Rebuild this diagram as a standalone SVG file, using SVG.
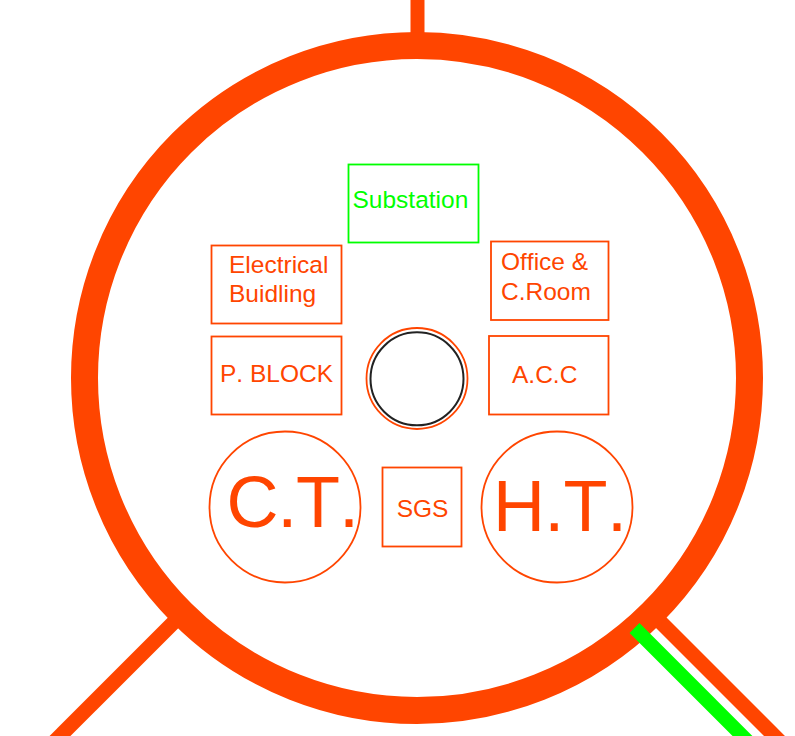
<svg xmlns="http://www.w3.org/2000/svg" width="795" height="736" viewBox="0 0 795 736">
<style>
.b{fill:none;stroke:#ff4500;stroke-width:1.8}
text{font-family:"Liberation Sans",Arial,sans-serif;font-kerning:none}
.t{fill:#ff4500;font-size:24.500px}
.big{fill:#ff4500;font-size:72px}
</style>
<rect width="795" height="736" fill="#fff"/>
<g id="connectors" fill="none" stroke-width="14.800">
<path d="M417.500 0V40" stroke="#ff4500" stroke-width="14"/>
<path d="M176 620L50 746" stroke="#ff4500"/>
<path d="M659 620.500L790 751.500" stroke="#ff4500"/>
</g>
<g id="ring"><circle cx="417" cy="378" r="332.500" fill="#fff" stroke="#ff4500" stroke-width="27"/></g>
<g id="green-connector"><path d="M634.500 628L764.500 758" fill="none" stroke="#00ff00" stroke-width="14"/></g>
<g id="substation"><rect x="348.500" y="164.500" width="130" height="78" fill="none" stroke="#00ff00" stroke-width="1.800"/><text x="352.500" y="207.500" font-size="24.500" fill="#00ff00">Substation</text></g>
<g id="electrical"><rect class="b" x="211.500" y="245.500" width="130" height="78"/><text class="t" x="229" y="272.500">Electrical</text><text class="t" x="229" y="301.500">Buidling</text></g>
<g id="office"><rect class="b" x="491" y="241.500" width="117.500" height="78.500"/><text class="t" x="501" y="270">Office &amp;</text><text class="t" x="501" y="299.500">C.Room</text></g>
<g id="pblock"><rect class="b" x="211.500" y="336.500" width="130" height="78"/><text class="t" x="220" y="381.700">P. BLOCK</text></g>
<g id="acc"><rect class="b" x="489" y="336" width="119.500" height="78.500"/><text class="t" x="512" y="382.500">A.C.C</text></g>
<g id="center"><circle cx="417" cy="378.500" r="50.500" class="b"/><circle cx="417" cy="378.800" r="46.500" fill="none" stroke="#222" stroke-width="2"/></g>
<g id="ct"><circle class="b" cx="285" cy="507" r="75.500"/><text class="big" x="226.500" y="527" letter-spacing="-1.200">C.T.</text></g>
<g id="sgs"><rect class="b" x="382.500" y="467.500" width="79" height="79"/><text class="t" x="396.700" y="516.700">SGS</text></g>
<g id="ht"><circle class="b" cx="557" cy="507" r="75.500"/><text class="big" x="493" y="531" letter-spacing="-0.700">H.T.</text></g>
</svg>
